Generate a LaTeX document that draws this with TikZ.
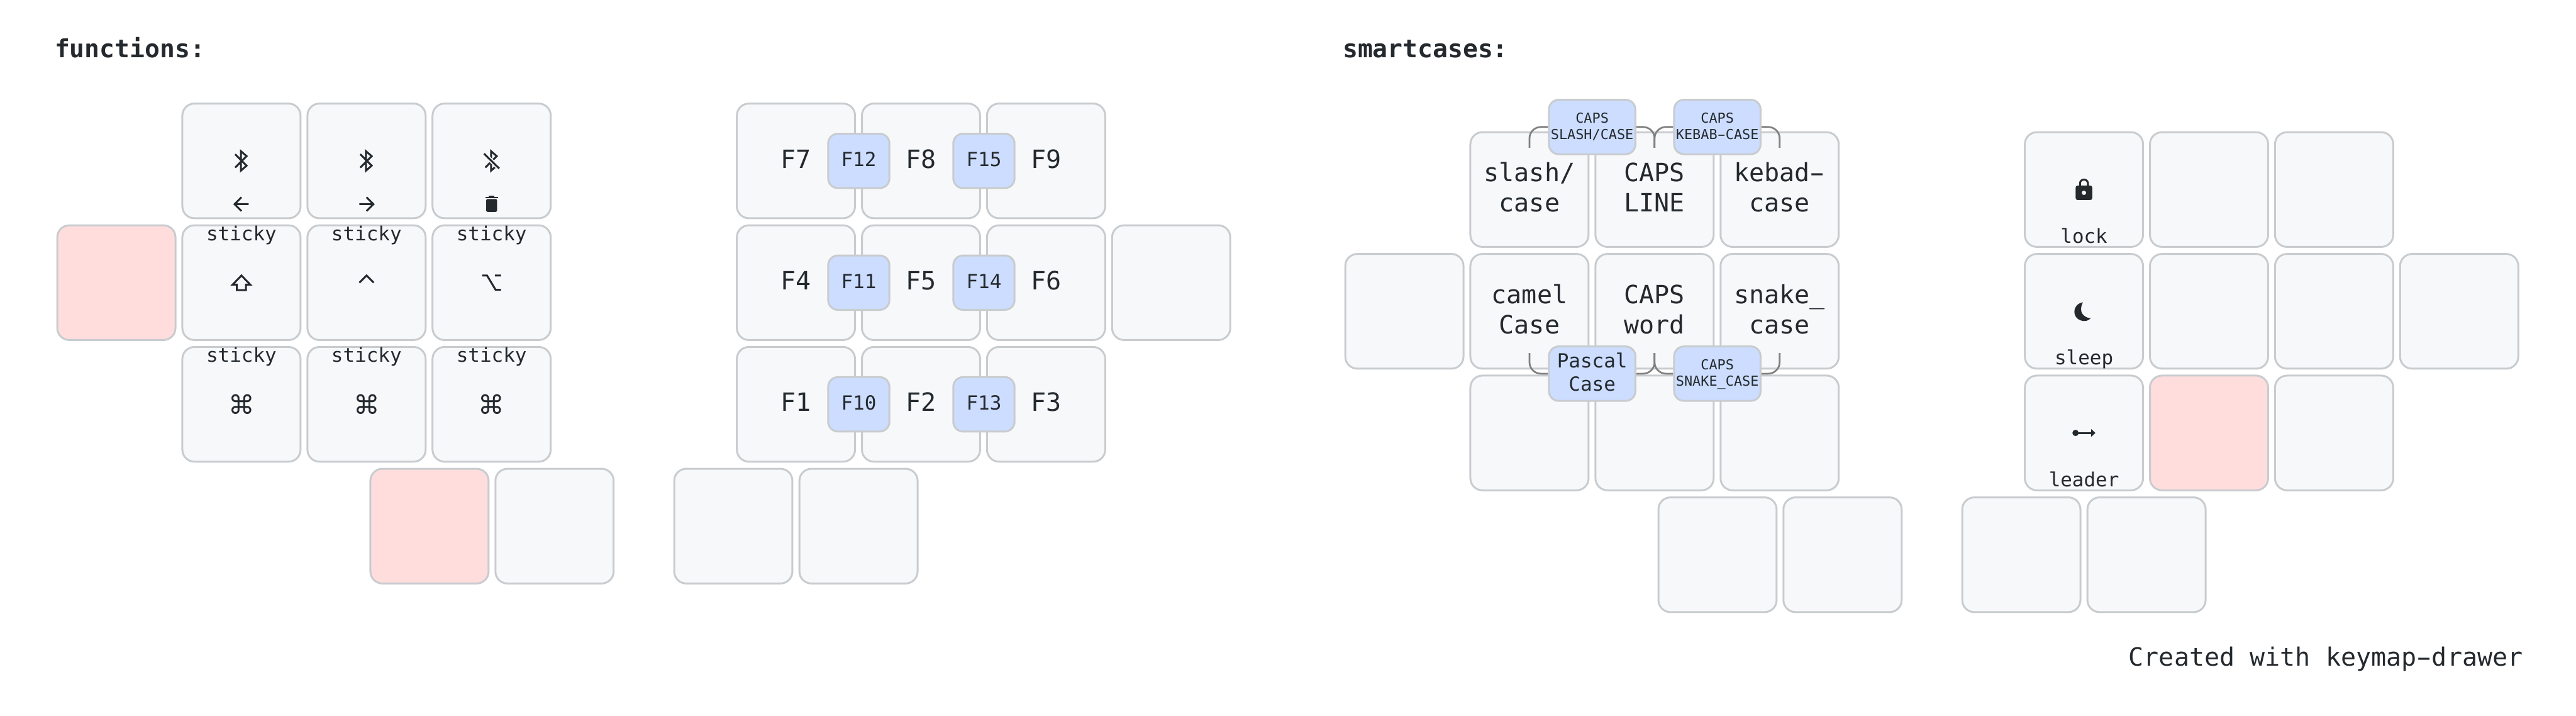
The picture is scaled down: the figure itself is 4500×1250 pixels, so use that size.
\documentclass[tikz,border=0pt]{standalone}
\usepackage{fontspec}
\usepackage{graphicx}
\setmainfont{DejaVu Sans Mono}
\newfontfamily\symbolfont{DejaVu Sans}
\definecolor{keyfill}{HTML}{F6F8FA}
\definecolor{keyedge}{HTML}{C9CCCF}
\definecolor{heldfill}{HTML}{FFDDDD}
\definecolor{combofill}{HTML}{CCDDFF}
\definecolor{linkgray}{HTML}{808080}
\definecolor{ink}{HTML}{24292E}
\pgfdeclarelayer{combos}
\pgfsetlayers{main,combos}
\newcommand{\keystrut}{\rule[-0.25em]{0pt}{1em}}
\newcommand{\twolines}[2]{\keystrut #1\\\keystrut #2}
\newcommand{\widedash}{\makebox[0.602em]{\scalebox{1.75}[1]{-}}}
\tikzset{
    keycap/.style={rectangle, draw=keyedge, fill=keyfill, line width=0.33mm, rounded corners=2.1mm,
        minimum width=20.65mm, minimum height=20.03mm, inner sep=0pt},
    heldcap/.style={keycap, fill=heldfill},
    combocap/.style={keycap, fill=combofill, rounded corners=1.7mm, minimum width=10.7mm, minimum height=9.5mm},
    widecombo/.style={combocap, minimum width=15.1mm},
    comboline/.style={draw=linkgray, line width=0.3mm, rounded corners=2mm},
    keytext/.style={font=\fontsize{12.52}{15.02}\selectfont, text=ink, align=center, inner sep=0pt, yshift=-0.15mm},
    midtext/.style={keytext, font=\fontsize{9.67}{11.6}\selectfont},
    tinytext/.style={keytext, font=\fontsize{6.83}{8.2}\selectfont},
    legend/.style={font=\fontsize{9.67}{11.6}\selectfont, text=ink, anchor=base, inner sep=0pt},
    heading/.style={font=\fontsize{12.4}{14}\selectfont\bfseries, text=ink, anchor=base west, inner sep=0pt},
    iconline/.style={draw=ink, line width=0.33mm},
    btglyph/.pic={\draw[iconline] (-11,11.7) -- (9,-8.3) -- (-1,-17) -- (-1,17) -- (9,8.3) -- (-11,-11.7);},
    btoffglyph/.pic={
        \draw[iconline] (-11,11.7) -- (9,-8.3) -- (-1,-17) -- (-1,17) -- (9,8.3);
        \draw[draw=keyfill, line width=0.75mm] (-13.3,-12.7) -- (13.3,13.3);
        \draw[iconline] (-13.3,-12.7) -- (13.3,13.3);},
    leftglyph/.pic={\draw[iconline] (12.5,0) -- (-12,0) (0,-12) -- (-12,0) -- (0,12);},
    rightglyph/.pic={\draw[iconline] (-12.5,0) -- (12,0) (0,-12) -- (12,0) -- (0,12);},
    trashglyph/.pic={
        \fill[ink, rounded corners=0.25mm] (-9.5,-9) -- (9.5,-9) -- (9.5,13.5) -- (-9.5,13.5) -- cycle;
        \fill[ink] (-11.2,-13) rectangle (11.2,-10);
        \fill[ink] (-5,-14.5) rectangle (5,-12);},
    shiftglyph/.pic={\draw[iconline, line join=miter] (0,-12.5) -- (15.5,3.5) -- (8,3.5) -- (8,13) -- (-8,13) -- (-8,3.5) -- (-15.5,3.5) -- cycle;},
    ctrlglyph/.pic={\draw[iconline] (-12.5,0) -- (0,-12.5) -- (12.5,0);},
    optionglyph/.pic={\draw[iconline] (-16.5,-12.5) -- (-8,-12.5) -- (7,12.5) -- (16.5,12.5) (6,-12.5) -- (16.5,-12.5);},
    lockglyph/.pic={
        \draw[iconline, rounded corners=0.7mm] (-7,-6) -- (-7,-17.5) -- (7,-17.5) -- (7,-6);
        \fill[ink, rounded corners=0.35mm] (-14.5,-7) rectangle (14.5,18.3);
        \fill[keyfill] (0,5.7) circle[radius=0.38mm];},
    moonglyph/.pic={\fill[ink] (-1.7,-15.7) .. controls (-11,-14) and (-16.7,-8) .. (-16.7,1)
        .. controls (-16.7,10) and (-9,17) .. (1,17) .. controls (5,17) and (9,15) .. (12,12)
        .. controls (4,12) and (-5,6) .. (-5,-3) .. controls (-5,-8) and (-4,-12) .. (-1.7,-15.7) -- cycle;},
    leaderglyph/.pic={
        \draw[iconline] (-14.7,0) -- (13,0);
        \fill[ink] (-14.7,0) circle[radius=0.55mm];
        \fill[ink] (12.7,-6.7) -- (20,0) -- (12.7,6.7) -- cycle;},
}

\begin{document}
\begin{tikzpicture}[x=0.1mm, y=-0.1mm]
    \useasboundingbox (0,0) rectangle (4500,1250);

    % Layer titles
    \node[heading] (fntitle) at (95,100) {functions:};
    \node[heading] (sctitle) at (2345,100) {smartcases:};

    % Keys of the first layer
    \foreach \kname/\kx/\ky/\kstyle in {
        fnLx/203.3/493.6/heldcap,
        fnL11/421.8/281/keycap, fnL12/640.3/281/keycap, fnL13/858.8/281/keycap,
        fnL21/421.8/493.6/keycap, fnL22/640.3/493.6/keycap, fnL23/858.8/493.6/keycap,
        fnL31/421.8/706/keycap, fnL32/640.3/706/keycap, fnL33/858.8/706/keycap,
        fnLt1/750.3/918.7/heldcap, fnLt2/968.7/918.7/keycap,
        fnR11/1390.4/281/keycap, fnR12/1608.9/281/keycap, fnR13/1827.4/281/keycap,
        fnR21/1390.4/493.6/keycap, fnR22/1608.9/493.6/keycap, fnR23/1827.4/493.6/keycap, fnRx/2045.9/493.6/keycap,
        fnR31/1390.4/706/keycap, fnR32/1608.9/706/keycap, fnR33/1827.4/706/keycap,
        fnRt1/1281/918.7/keycap, fnRt2/1499.7/918.7/keycap}
        \node[\kstyle] (\kname) at (\kx,\ky) {};

    % Keys of the second layer
    \foreach \kname/\kx/\ky/\kstyle in {
        scLx/2453.3/543.6/keycap,
        scL11/2671.8/331/keycap, scL12/2890.3/331/keycap, scL13/3108.8/331/keycap,
        scL21/2671.8/543.6/keycap, scL22/2890.3/543.6/keycap, scL23/3108.8/543.6/keycap,
        scL31/2671.8/756/keycap, scL32/2890.3/756/keycap, scL33/3108.8/756/keycap,
        scLt1/3000.3/968.7/keycap, scLt2/3218.7/968.7/keycap,
        scR11/3640.4/331/keycap, scR12/3858.9/331/keycap, scR13/4077.4/331/keycap,
        scR21/3640.4/543.6/keycap, scR22/3858.9/543.6/keycap, scR23/4077.4/543.6/keycap, scRx/4295.9/543.6/keycap,
        scR31/3640.4/756/keycap, scR32/3858.9/756/heldcap, scR33/4077.4/756/keycap,
        scRt1/3531/968.7/keycap, scRt2/3749.7/968.7/keycap}
        \node[\kstyle] (\kname) at (\kx,\ky) {};

    % Function key labels
    \foreach \kname/\klabel in {fnR11/F7, fnR12/F8, fnR13/F9, fnR21/F4, fnR22/F5, fnR23/F6, fnR31/F1, fnR32/F2, fnR33/F3}
        \node[keytext] (\kname-text) at (\kname) {\keystrut \klabel};

    % Combos on top of the keys
    \begin{pgfonlayer}{combos}
        \foreach \kname/\kx/\ky in {
            cF12/1500.2/281, cF15/1718.8/281, cF11/1500.2/493.6,
            cF14/1718.8/493.6, cF10/1500.2/706, cF13/1718.8/706}
            \node[combocap] (\kname) at (\kx,\ky) {};
        \foreach \kname/\klabel in {cF12/F12, cF15/F15, cF11/F11, cF14/F14, cF10/F10, cF13/F13}
            \node[midtext] (\kname-text) at (\kname) {\keystrut \klabel};

        \node[widecombo] (cslash) at (2781.3,221.7) {};
        \node[widecombo] (ckebab) at (3000,221.7) {};
        \node[widecombo] (cpascal) at (2781.3,652.5) {};
        \node[widecombo] (csnake) at (3000,652.5) {};
        \node[tinytext] (cslash-text) at (cslash) {\twolines{CAPS}{SLASH/CASE}};
        \node[tinytext] (ckebab-text) at (ckebab) {\twolines{CAPS}{KEBAB\widedash CASE}};
        \node[midtext] (cpascal-text) at (cpascal) {\twolines{Pascal}{Case}};
        \node[tinytext] (csnake-text) at (csnake) {\twolines{CAPS}{SNAKE\_CASE}};
    \end{pgfonlayer}

    % Combo connectors
    \draw[comboline] (cslash.west) -| ([yshift=7.3mm]scL11.center);
    \draw[comboline] (cslash.east) -| ([yshift=7.3mm]scL12.center);
    \draw[comboline] (ckebab.west) -| ([yshift=7.3mm]scL12.center);
    \draw[comboline] (ckebab.east) -| ([yshift=7.3mm]scL13.center);
    \draw[comboline] (cpascal.west) -| ([yshift=-7.3mm]scL21.center);
    \draw[comboline] (cpascal.east) -| ([yshift=-7.3mm]scL22.center);
    \draw[comboline] (csnake.west) -| ([yshift=-7.3mm]scL22.center);
    \draw[comboline] (csnake.east) -| ([yshift=-7.3mm]scL23.center);

    % Smartcase key labels
    \node[keytext] (scL11-text) at (scL11) {\twolines{slash/}{case}};
    \node[keytext] (scL12-text) at (scL12) {\twolines{CAPS}{LINE}};
    \node[keytext] (scL13-text) at (scL13) {\twolines{kebad\widedash}{case}};
    \node[keytext] (scL21-text) at (scL21) {\twolines{camel}{Case}};
    \node[keytext] (scL22-text) at (scL22) {\twolines{CAPS}{word}};
    \node[keytext] (scL23-text) at (scL23) {\twolines{snake\_}{case}};

    % Tap legends along the key edges
    \foreach \kname in {fnL21, fnL22, fnL23, fnL31, fnL32, fnL33}
        \node[legend] (\kname-sticky) at ([yshift=7.37mm]\kname.center) {sticky};
    \node[legend] (lockhold) at ([yshift=-9.35mm]scR11.center) {lock};
    \node[legend] (sleephold) at ([yshift=-9.35mm]scR21.center) {sleep};
    \node[legend] (leaderhold) at ([yshift=-9.35mm]scR31.center) {leader};

    % Icons
    \pic at (fnL11) {btglyph};
    \pic at (fnL12) {btglyph};
    \pic at (fnL13) {btoffglyph};
    \pic at ([yshift=-7.55mm]fnL11.center) {leftglyph};
    \pic at ([yshift=-7.55mm]fnL12.center) {rightglyph};
    \pic at ([yshift=-7.55mm]fnL13.center) {trashglyph};
    \pic at (fnL21) {shiftglyph};
    \pic at (fnL22) {ctrlglyph};
    \pic at (fnL23) {optionglyph};
    \foreach \kname in {fnL31, fnL32, fnL33}
        \node[font=\symbolfont\fontsize{13}{15}\selectfont, text=ink, inner sep=0pt] (\kname-cmd) at (\kname) {⌘};
    \pic at (scR11) {lockglyph};
    \pic at (scR21) {moonglyph};
    \pic at (scR31) {leaderglyph};

    % Footer
    \node[keytext, anchor=base east, yshift=0.15mm] (credit) at (4408,1163) {Created with keymap\widedash drawer};
\end{tikzpicture}
\end{document}
